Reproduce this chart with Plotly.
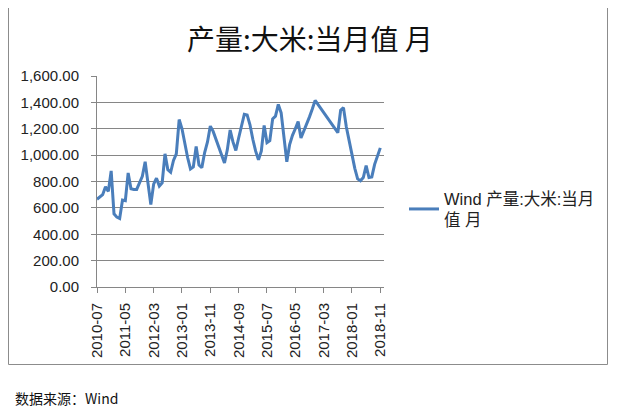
import pandas as pd
import plotly.graph_objects as go

# Monthly categories 2010-07 .. 2018-11
months = [p.strftime("%Y-%m") for p in pd.period_range("2010-07", "2018-11", freq="M")]

values = [
    665, 680, 700, 760, 725, 880, 555, 530, 520, 660,      # 2010-07 .. 2011-04
    655, 865, 745, 740, 740, 790, 840, 950, None, 625,     # 2011-05 .. 2012-02
    780, 825, 765, 790, 1010, 890, 870, 960, 1010, 1270,   # 2012-03 .. 2012-12
    1200, 1080, 980, 895, 910, 1065, 925, 905, 1020, 1100, # 2013-01 .. 2013-10
    1220, 1180, 1120, 1060, 1000, 940, 1040, 1190, 1100, 1035,  # 2013-11 .. 2014-08
    1130, 1230, 1310, 1305, 1230, 1120, 1030, 965, 1030, 1225,  # 2014-09 .. 2015-06
    1095, 1110, 1275, 1295, 1385, 1320, 1130, 950, 1080, 1150,  # 2015-07 .. 2016-04
    1200, 1255, 1130, 1180, 1240, 1290, 1350, 1415, None, None, # 2016-05 .. 2017-02
    None, None, None, None, None, 1170, 1340, 1360, 1215, 1110, # 2017-03 .. 2017-12
    1000, 900, 820, 805, 830, 920, 830, 835, 930, 990,          # 2018-01 .. 2018-10
    1055,                                                       # 2018-11
]

tick_labels = ["2010-07", "2011-05", "2012-03", "2013-01", "2013-11", "2014-09",
               "2015-07", "2016-05", "2017-03", "2018-01", "2018-11"]
y_ticks = [0, 200, 400, 600, 800, 1000, 1200, 1400, 1600]

series_name = "Wind 产量:大米:当月<br>值 月"
title_text = "产量:大米:当月值 月"
source_text = "数据来源：Wind"

fig = go.Figure()
fig.add_trace(go.Scatter(
    x=months, y=values, mode="lines", name=series_name,
    connectgaps=True,
    line=dict(color="#4A7EBB", width=3),
))

OFF = 8  # page body margin
W, H = 631 - OFF, 418 - OFF
L, R, T, B = 97 - OFF, 384 - OFF, 76 - OFF, 287 - OFF
pw, ph = R - L, B - T

def px(x):
    return (x - OFF - L) / pw

def py(y):
    return (B - (y - OFF)) / ph

fig.update_layout(
    width=W, height=H,
    margin=dict(l=L, r=W - R, t=T, b=H - B, pad=0),
    paper_bgcolor="white", plot_bgcolor="white",
    showlegend=True,
    legend=dict(x=px(404), y=py(209), xanchor="left", yanchor="middle",
                font=dict(family="Liberation Sans, Noto Sans CJK SC", size=16.5, color="#222"),
                bgcolor="rgba(0,0,0,0)", itemwidth=30, tracegroupgap=0),
    font=dict(family="Liberation Sans, Noto Sans CJK SC", color="#222"),
    xaxis=dict(
        type="category", categoryorder="array", categoryarray=months,
        range=[0, (R - L) / 2.833],
        tickmode="array", tickvals=tick_labels, ticktext=tick_labels,
        tickangle=-90, tickfont=dict(size=15, family="Liberation Sans", color="#222"),
        showgrid=False, showline=True, linecolor="#868686", linewidth=1,
        ticks="outside", ticklen=5, tickcolor="#868686", zeroline=False,
        ticklabelstandoff=4,
    ),
    yaxis=dict(
        range=[0, 1600], tickmode="array", tickvals=y_ticks,
        tickformat=",.2f", tickfont=dict(size=15, family="Liberation Sans", color="#222"),
        showgrid=True, gridcolor="#868686", gridwidth=1,
        showline=True, linecolor="#868686", linewidth=1,
        ticks="outside", ticklen=5, tickcolor="#868686", zeroline=False,
        ticklabelstandoff=9,
    ),
    shapes=[dict(type="rect", xref="paper", yref="paper",
                 x0=px(8.5), x1=px(607.5), y0=py(364.5), y1=py(5.5),
                 line=dict(color="#8c8c8c", width=1), fillcolor="rgba(0,0,0,0)",
                 layer="below")],
    annotations=[
        dict(text=title_text, xref="paper", yref="paper", x=px(310), y=py(38),
             xanchor="center", yanchor="middle", showarrow=False,
             font=dict(size=28, family="Noto Sans CJK SC", color="#111")),
        dict(text=source_text, xref="paper", yref="paper", x=px(13), y=py(398),
             xanchor="left", yanchor="middle", showarrow=False,
             font=dict(size=14, family="Noto Sans CJK SC", color="#111")),
    ],
)

fig.write_html("out.html")
